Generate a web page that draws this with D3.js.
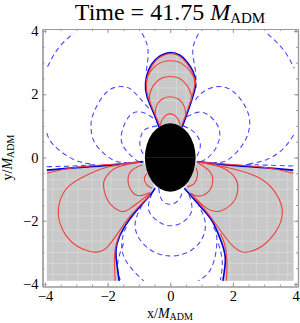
<!DOCTYPE html>
<html>
<head>
<meta charset="utf-8">
<title>Time = 41.75</title>
<script src="https://d3js.org/d3.v7.min.js"></script>
<style>
  html, body { margin: 0; padding: 0; background: #fff; }
  svg { display: block; }
  text { font-family: "Liberation Serif", serif; fill: #000; }
</style>
</head>
<body>
<div id="vis"></div>
<script>
// everything below is in units of M_ADM
var majorTicks = [-4, -2, 0, 2, 4];
var minorTicks = [-4, -3.5, -3, -2.5, -2, -1.5, -1, -0.5, 0, 0.5, 1, 1.5, 2, 2.5, 3, 3.5, 4];

var horizonX = [-0.81, 0.81];
var horizonY = [-1.08, 1.08];

// solid blue boundaries
var topLobe = [[-0.36,0.96],[-0.53,1.40],[-0.74,1.92],[-0.79,2.35],[-0.69,2.77],[-0.48,3.09],[-0.27,3.24],[0,3.32],[0.30,3.24],[0.53,3.03],[0.73,2.72],[0.81,2.35],[0.74,1.98],[0.58,1.50],[0.38,0.96]];
var wingLeft = [[-3.94,-0.40],[-3,-0.32],[-2,-0.25],[-0.86,-0.13]];
var wingRight = [[0.85,-0.13],[2,-0.25],[3,-0.32],[3.93,-0.40]];
var lowerLeft = [[-0.48,-0.97],[-0.64,-1.19],[-1.06,-1.66],[-1.49,-2.24],[-1.70,-2.72],[-1.73,-3.14],[-1.63,-3.90]];
var lowerRight = [[0.45,-0.97],[1.06,-1.66],[1.38,-2.08],[1.65,-2.72],[1.76,-3.24],[1.68,-3.90]];

// solid red contours
var redTop = [
  [[-0.33,1.0],[-0.50,1.40],[-0.71,1.92],[-0.76,2.35],[-0.66,2.75],[-0.46,3.06],[-0.26,3.21],[0,3.28],[0.29,3.21],[0.51,3.00],[0.70,2.70],[0.78,2.35],[0.71,1.98],[0.55,1.50],[0.36,1.0]],
  [[-0.77,2.30],[-0.72,2.56],[-0.43,2.93],[0,3.06],[0.43,2.93],[0.77,2.51],[0.80,2.30]],
  [[-0.64,1.72],[-0.66,1.98],[-0.53,2.29],[-0.27,2.51],[0,2.56],[0.27,2.51],[0.53,2.29],[0.67,1.98],[0.67,1.77]],
  [[-0.48,1.34],[-0.45,1.61],[-0.27,1.84],[0,1.92],[0.27,1.84],[0.45,1.61],[0.50,1.34]],
  [[-0.32,1.03],[-0.23,1.24],[0,1.38],[0.23,1.24],[0.32,1.03]]
];
var redLoops = [
  [[-3.94,-0.50],[-2.98,-0.31],[-0.96,-0.15]],
  [[3.93,-0.50],[2.98,-0.31],[0.96,-0.15]],
  [[-1.76,-3.90],[-1.78,-3.14],[-1.72,-2.72],[-1.60,-2.40]],
  [[1.79,-3.90],[1.81,-3.24],[1.73,-2.72],[1.60,-2.40]],
  [[-0.96,-0.15],[-2.02,-0.31],[-2.77,-0.61],[-3.30,-0.97],[-3.57,-1.60],[-3.46,-2.24],[-3.09,-2.72],[-2.56,-2.97],[-2.02,-2.84],[-1.38,-1.98],[-0.64,-1.19]],
  [[-1.17,-0.18],[-1.76,-0.34],[-2.08,-0.66],[-2.13,-0.92],[-1.97,-1.40],[-1.60,-1.69],[-1.28,-1.61],[-0.64,-1.13]],
  [[-0.90,-0.24],[-1.22,-0.40],[-1.35,-0.71],[-1.22,-1.08],[-0.96,-1.21],[-0.64,-1.11]],
  [[-0.74,-0.50],[-0.83,-0.66],[-0.74,-0.87],[-0.58,-0.97]],
  [[0.85,-0.13],[1.92,-0.34],[2.77,-0.61],[3.30,-1.03],[3.57,-1.61],[3.46,-2.19],[3.04,-2.72],[2.56,-2.97],[2.02,-2.82],[1.28,-1.87],[0.64,-1.13]],
  [[0.96,-0.16],[1.70,-0.34],[2.08,-0.66],[2.16,-0.97],[2.02,-1.40],[1.60,-1.69],[1.17,-1.61],[0.64,-1.13]],
  [[0.90,-0.18],[1.22,-0.40],[1.36,-0.71],[1.22,-1.08],[0.90,-1.22],[0.64,-1.13]],
  [[0.83,-0.33],[0.87,-0.55],[0.77,-0.82],[0.54,-0.93]]
];

// dashed blue contours
var dashed = [
  [[-0.37,-0.97],[-0.27,-1.34],[0,-1.48],[0.27,-1.34],[0.41,-1.03]],
  [[-0.58,-1.13],[-0.69,-1.66],[-0.37,-2.03],[0,-2.16],[0.42,-2.03],[0.69,-1.66],[0.58,-1.13]],
  [[-0.90,-1.50],[-1.12,-2.08],[-0.96,-2.61],[-0.53,-2.98],[-0.05,-3.11],[0.48,-3.03],[0.96,-2.66],[1.12,-2.08],[0.90,-1.50]],
  [[-1.40,-2.20],[-1.49,-2.40],[-1.54,-2.93],[-1.28,-3.46],[-0.85,-3.90]],
  [[1.38,-2.20],[1.49,-2.61],[1.33,-3.46],[0.90,-3.90]],
  [[-1.49,-2.72],[-1.68,-3.35],[-1.60,-3.88]],
  [[1.54,-2.72],[1.66,-3.30],[1.60,-3.88]],
  [[-3.94,0.77],[-3.73,0.40],[-3.09,-0.06],[-2.40,-0.22]],
  [[3.94,0.71],[3.62,0.29],[3.09,-0.06],[2.40,-0.22]],
  [[-3.92,2.87],[-3.57,3.46],[-3.09,3.93]],
  [[3.11,3.91],[3.62,3.40],[3.96,2.82]],
  [[-0.90,3.93],[-0.71,3.40],[-0.78,2.66]],
  [[0.90,3.91],[0.72,3.40],[0.80,2.77],[0.82,2.20]],
  [[-0.69,1.56],[-1.17,2.08],[-1.49,2.24],[-2.02,2.08],[-2.45,1.40],[-2.53,0.97],[-2.40,0.45],[-1.86,-0.06],[-1.40,-0.16]],
  [[0.80,1.82],[1.06,2.08],[1.49,2.24],[2.02,2.08],[2.45,1.50],[2.53,0.97],[2.34,0.45],[1.86,-0.06],[1.40,-0.16]],
  [[-0.55,1.25],[-0.90,1.43],[-1.28,1.34],[-1.54,0.82],[-1.49,0.34],[-1.12,-0.06],[-0.95,-0.14]],
  [[0.53,1.29],[1.01,1.43],[1.44,1.13],[1.58,0.66],[1.38,0.18],[1.12,-0.06],[0.95,-0.14]],
  [[-0.42,1.0],[-0.69,0.94],[-0.90,0.77],[-0.96,0.34],[-0.74,-0.06]],
  [[0.42,1.0],[0.74,0.82],[0.96,0.45],[0.85,0.03]],
  [[-3.94,-0.29],[-3.10,-0.27],[-2.40,-0.23]],
  [[3.93,-0.27],[3.04,-0.24],[2.40,-0.22]]
];

// pale mesh lines showing through the grey
var meshV = [-3.75, -3.3, -2.95, -2.5, -2.2, -1.9, -1.0, 1.0, 1.9, 2.3, 2.75, 3.1, 3.45, 3.75, -0.4, 0.2, 0.5];
var meshH = [-3.7, -3.35, -3.0, -2.65, -2.3, -1.85, -1.4, -1.0, -0.7, 1.3, 1.8, 2.2, 2.7];
var meshDiag = [-7, -6, -5, -4, -3, -2, -1, 0, 1, 2, 3, 4, 5, 6, 7];

var plotBox = {left: -3.94, right: 3.94, bottom: -3.90};

var W = 300, H = 323;
var x = d3.scaleLinear().domain([-4, 4]).range([45, 295.5]);
var y = d3.scaleLinear().domain([-4, 4]).range([284, 31]);
var frameL = 42.5, frameR = 298, frameT = 29, frameB = 286.5;

var svg = d3.select('#vis').append('svg').attr('width', W).attr('height', H);

var line = d3.line().x(function(d) { return x(d[0]); }).y(function(d) { return y(d[1]); })
  .curve(d3.curveNatural);
var straight = d3.line().x(function(d) { return x(d[0]); }).y(function(d) { return y(d[1]); });

// grey regions: lobe is closed, the lower ones are built from their boundaries
function greyPath(i) {
  if (i === 0) return line(topLobe);
  var top = i === 1 ? wingLeft : wingRight.slice().reverse();
  var low = i === 1 ? lowerLeft : lowerRight;
  var corner = i === 1 ? plotBox.left : plotBox.right;
  return line(top) + 'L' + line(low).slice(1) + 'L' + x(corner) + ',' + y(plotBox.bottom) + 'Z';
}
var clip = svg.append('clipPath').attr('id', 'greyClip');
clip.selectAll('path').data([0, 1, 2]).enter().append('path').attr('d', greyPath);

var greyG = svg.append('g').attr('clip-path', 'url(#greyClip)');
greyG.append('rect').attr('x', x(-4)).attr('y', y(4)).attr('width', x(4) - x(-4)).attr('height', y(-4) - y(4))
  .attr('fill', '#c8c8c8');
greyG.selectAll('.mv').data(meshV).enter().append('line')
  .attr('x1', function(d) { return x(d); }).attr('x2', function(d) { return x(d); })
  .attr('y1', y(4)).attr('y2', y(-4)).attr('stroke', '#d6d6d6').attr('stroke-width', 1);
greyG.selectAll('.mh').data(meshH).enter().append('line')
  .attr('y1', function(d) { return y(d); }).attr('y2', function(d) { return y(d); })
  .attr('x1', x(-4)).attr('x2', x(4)).attr('stroke', '#d6d6d6').attr('stroke-width', 1);
greyG.selectAll('.md').data(meshDiag).enter().append('line')
  .attr('x1', function(d) { return x(d - 4); }).attr('y1', y(-4))
  .attr('x2', function(d) { return x(d + 4); }).attr('y2', y(4))
  .attr('stroke', '#cfcfcf').attr('stroke-width', 0.7);

// dashed blue
svg.append('g').selectAll('path').data(dashed).enter().append('path')
  .attr('d', line).attr('fill', 'none').attr('stroke', '#4a4aff').attr('stroke-width', 1.1)
  .attr('stroke-dasharray', '5,3.5');

// solid boundaries
svg.append('g').selectAll('path').data([topLobe, wingLeft, wingRight, lowerLeft, lowerRight]).enter().append('path')
  .attr('d', line).attr('fill', 'none').attr('stroke', '#0000dd').attr('stroke-width', 1.6);

// red contours
svg.append('g').selectAll('path').data(redTop.concat(redLoops)).enter().append('path')
  .attr('d', line).attr('fill', 'none').attr('stroke', '#f04040').attr('stroke-width', 1.1);

// black hole on top
svg.append('ellipse').attr('cx', x(0)).attr('cy', y(0))
  .attr('rx', x(horizonX[1]) - x(0)).attr('ry', y(0) - y(horizonY[1])).attr('fill', '#000');
svg.append('path').attr('d', straight([[horizonX[0], 0], [horizonX[1], 0]])).attr('stroke', '#333').attr('stroke-width', 0.6);

// frame + ticks, mathematica style, all pointing inwards
function frameAxis(gen, ticks, size, tx, ty, labelled) {
  var g = svg.append('g').attr('transform', 'translate(' + tx + ',' + ty + ')')
    .call(gen.tickValues(ticks).tickSize(-size).tickSizeOuter(0).tickPadding(4)
      .tickFormat(labelled ? function(d) { return d3.format('d')(d).replace('-', '\u2212'); } : ''));
  g.selectAll('.tick line').attr('stroke', '#9a9a9a');
  g.select('.domain').attr('stroke', '#9a9a9a').attr('stroke-width', 1.2);
  g.selectAll('text').style('font-size', '14.5px').style('font-family', '"Liberation Serif", serif').attr('fill', '#000');
  return g;
}
function extend(s, a, b) { return s.copy().domain([s.invert(a), s.invert(b)]).range([a, b]); }
var xFrame = extend(x, frameL, frameR), yFrame = extend(y, frameB, frameT);

frameAxis(d3.axisBottom(xFrame), minorTicks, 2, 0, frameB, false);
frameAxis(d3.axisBottom(xFrame), majorTicks, 4, 0, frameB, true);
frameAxis(d3.axisTop(xFrame), minorTicks, 2, 0, frameT, false);
frameAxis(d3.axisTop(xFrame), majorTicks, 4, 0, frameT, false);
frameAxis(d3.axisLeft(yFrame), minorTicks, 2, frameL, 0, false);
frameAxis(d3.axisLeft(yFrame), majorTicks, 4, frameL, 0, true);
frameAxis(d3.axisRight(yFrame), minorTicks, 2, frameR, 0, false);
frameAxis(d3.axisRight(yFrame), majorTicks, 4, frameR, 0, false);

// title and axis labels
var title = svg.append('text').attr('x', 170).attr('y', 20).attr('text-anchor', 'middle').style('font-size', '24px');
title.append('tspan').text('Time = 41.75 ');
title.append('tspan').text('M').style('font-style', 'italic');
title.append('tspan').text('ADM').attr('dy', 3).style('font-size', '15px');

var xl = svg.append('text').attr('x', 170).attr('y', 318).attr('text-anchor', 'middle').style('font-size', '14px');
xl.append('tspan').text('x/');
xl.append('tspan').text('M').style('font-style', 'italic');
xl.append('tspan').text('ADM').attr('dy', 2).style('font-size', '10px');

var yl = svg.append('text').attr('transform', 'translate(11.5,157.5) rotate(-90)').attr('text-anchor', 'middle').style('font-size', '14px');
yl.append('tspan').text('y/');
yl.append('tspan').text('M').style('font-style', 'italic');
yl.append('tspan').text('ADM').attr('dy', 2).style('font-size', '10px');
</script>
</body>
</html>
